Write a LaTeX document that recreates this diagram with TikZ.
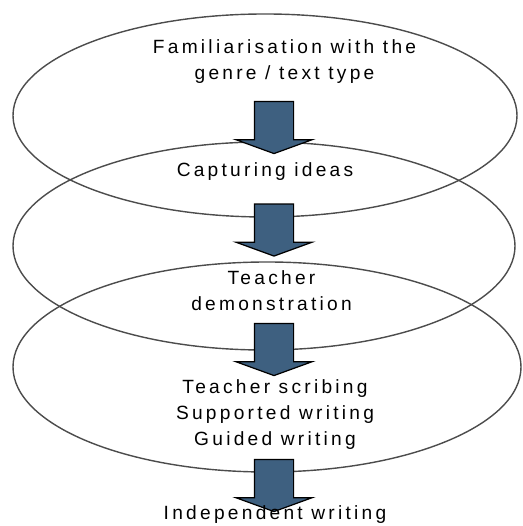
\documentclass[tikz,border=0pt]{standalone}
\usepackage{fontspec}
\setmainfont{Liberation Sans}[LetterSpace=17]
\usepackage{tikz}
\usetikzlibrary{shapes.geometric, shapes.arrows}
\definecolor{arrowblue}{RGB}{62,96,128}

\begin{document}
\begin{tikzpicture}[
    stage/.style={draw=black!70, line width=0.8pt, ellipse, inner sep=0},
    downarrow/.style={single arrow, draw=black, fill=arrowblue,
      line width=0.7pt, rotate=-90, inner xsep=0, inner ysep=0.38cm,
      single arrow head extend=0.37cm, single arrow tip angle=140,
      minimum height=1.04cm},
    stagetext/.style={align=center, inner sep=0,
      font=\fontsize{10.9}{14.8}\selectfont}
  ]
  \useasboundingbox (0, 0) rectangle (10.44, 10.52);

  \node[stage, minimum width=10.08cm, minimum height=4.06cm]
    (stage1) at (5.30, 8.21) {};

  \node[stage, minimum width=10.04cm, minimum height=4.16cm]
    (stage2) at (5.28, 5.60) {};

  \node[stage, minimum width=10.16cm, minimum height=4.20cm]
    (stage3) at (5.34, 3.18) {};

  \node[downarrow] (a1) at (5.48, 8.04) {};
  \node[downarrow] (a2) at (5.48, 5.99) {};
  \node[downarrow] (a3) at (5.48, 3.60) {};
  \node[downarrow] (a4) at (5.48, 0.88) {};

  \node[stagetext]
    (genre) at (5.69, 9.29) {Familiarisation with the\\genre / text type};

  \node[stagetext]
    (ideas) at (5.30, 7.08) {Capturing ideas};

  \node[stagetext]
    (demo) at (5.43, 4.70) {Teacher\\demonstration};

  \node[stagetext]
    (shared) at (5.50, 2.22) {Teacher scribing\\Supported writing\\Guided writing};

  \node[stagetext]
    (indep) at (5.50, 0.22) {Independent writing};
\end{tikzpicture}
\end{document}
